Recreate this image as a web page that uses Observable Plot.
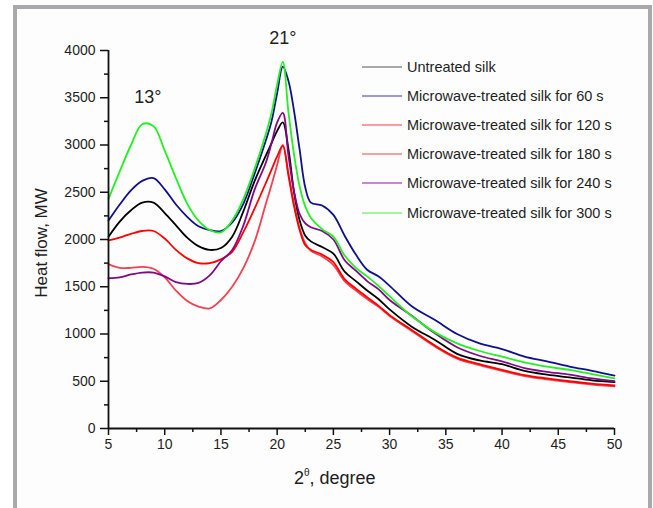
<!DOCTYPE html>
<html>
<head>
<meta charset="utf-8">
<script src="https://cdn.jsdelivr.net/npm/d3@7"></script>
<script src="https://cdn.jsdelivr.net/npm/@observablehq/plot@0.6"></script>
<style>
  html, body { margin: 0; padding: 0; background: #ffffff; }
  body { width: 653px; height: 508px; overflow: hidden; position: relative; font-family: "Liberation Sans", Arial, sans-serif; color: #1e1e1e; }
  #frame { position: absolute; left: 13px; top: 5px; width: 631px; height: 520px; border: 4px solid #a9a9ad; border-bottom: none; background: #fdfdfd; }
  #chart { position: absolute; left: 0; top: 0; }
  #legend { position: absolute; left: 0; top: 0; }
  .lrow { position: absolute; height: 20px; }
  .lrow svg { position: absolute; left: 0; top: 0; }
  .lrow span { position: absolute; left: 45px; top: 0; font-size: 14.5px; line-height: 20px; white-space: nowrap; color: #1e1e1e; }
  #ylab { position: absolute; left: 42px; top: 243px; transform: translate(-50%, -50%) rotate(-90deg); font-size: 17px; white-space: nowrap; color: #1e1e1e; }
  #xlab { position: absolute; left: 294px; top: 468px; font-size: 18px; white-space: nowrap; color: #1e1e1e; }
  #xlab sup { font-size: 10px; vertical-align: 0; position: relative; top: -8px; }
</style>
</head>
<body>
<div id="frame"></div>
<div id="chart"></div>
<div id="legend"></div>
<div id="ylab">Heat flow, MW</div>
<div id="xlab">2<sup>θ</sup>, degree</div>
<script>
// ---- data ----
const seriesNames = [
  "Untreated silk",
  "Microwave-treated silk for 60 s",
  "Microwave-treated silk for 120 s",
  "Microwave-treated silk for 180 s",
  "Microwave-treated silk for 240 s",
  "Microwave-treated silk for 300 s"
];
const seriesColors = ["#000000", "#10108a", "#f4404f", "#ff0000", "#800a85", "#22f022"];
const legendColors = ["#555555", "#3a3a9e", "#ff9a9e", "#ee4444", "#c488cc", "#44ee44"];
const legendWidths = [1, 1, 2, 1, 2, 1];

const twoTheta = [5, 6, 7, 8, 9, 10, 11, 12, 13, 14, 15, 16, 17, 18, 19, 19.5, 20, 20.5, 21, 21.5, 22, 22.5, 23, 24, 25, 26, 27, 28, 29, 30, 32, 34, 36, 38, 40, 42, 44, 46, 48, 50];

const untreated = [2030, 2190, 2310, 2390, 2390, 2280, 2150, 2020, 1930, 1890, 1910, 2030, 2300, 2620, 2890, 3020, 3150, 3240, 2960, 2500, 2200, 2040, 1980, 1920, 1850, 1660, 1560, 1460, 1370, 1260, 1075, 940, 790, 720, 680, 610, 570, 540, 510, 490];
const mw60 = [2200, 2370, 2520, 2620, 2650, 2530, 2370, 2240, 2140, 2100, 2090, 2180, 2380, 2700, 3050, 3250, 3550, 3830, 3680, 3360, 2950, 2550, 2390, 2360, 2260, 2040, 1840, 1680, 1610, 1510, 1290, 1150, 1000, 900, 840, 760, 710, 655, 610, 560];
const mw120 = [1740, 1700, 1700, 1710, 1690, 1600, 1460, 1350, 1290, 1270, 1360, 1500, 1700, 1980, 2380, 2580, 2790, 3000, 2700, 2380, 2120, 1960, 1880, 1820, 1730, 1560, 1460, 1370, 1290, 1190, 1030, 870, 740, 670, 610, 555, 520, 490, 465, 445];
const mw180 = [1990, 2020, 2060, 2090, 2090, 2010, 1890, 1800, 1750, 1750, 1790, 1870, 2080, 2330, 2600, 2740, 2880, 2990, 2680, 2350, 2100, 1940, 1890, 1840, 1760, 1580, 1480, 1390, 1300, 1200, 1040, 880, 750, 680, 620, 565, 530, 500, 475, 455];
const mw240 = [1590, 1600, 1630, 1650, 1650, 1610, 1550, 1530, 1540, 1620, 1770, 1890, 2150, 2530, 2815, 3020, 3240, 3340, 2890, 2510, 2270, 2170, 2130, 2090, 2000, 1780, 1670, 1560, 1475, 1360, 1190, 1010, 860, 770, 710, 640, 600, 570, 530, 500];
const mw300 = [2430, 2720, 3000, 3220, 3200, 2940, 2650, 2380, 2200, 2100, 2075, 2200, 2430, 2750, 3120, 3340, 3640, 3880, 3350, 2900, 2560, 2350, 2230, 2110, 2030, 1830, 1700, 1610, 1510, 1400, 1185, 1020, 900, 820, 760, 700, 655, 620, 575, 530];

const xTicks = [5, 10, 15, 20, 25, 30, 35, 40, 45, 50];
const xMinor = [7.5, 12.5, 17.5, 22.5, 27.5, 32.5, 37.5, 42.5, 47.5];
const yTicks = [0, 500, 1000, 1500, 2000, 2500, 3000, 3500, 4000];
const yMinor = [250, 750, 1250, 1750, 2250, 2750, 3250, 3750];

const annoLabels = ["13°", "21°"];
const annoX = [8.5, 20.5];
const annoY = [3510, 4125];

// ---- build tables ----
const allSeries = [untreated, mw60, mw120, mw180, mw240, mw300];
const rows = [];
allSeries.forEach((vals, si) => {
  vals.forEach((v, i) => rows.push({ s: seriesNames[si], x: twoTheta[i], y: v }));
});
const annos = annoLabels.map((t, i) => ({ t, x: annoX[i], y: annoY[i] }));

const lineMarks = seriesNames.map((name, si) =>
  Plot.line(rows.filter(d => d.s === name), {
    x: "x", y: "y", stroke: seriesColors[si], strokeWidth: 1.8, curve: "catmull-rom"
  })
);

const fmt = d => String(d);

const chart = Plot.plot({
  width: 653,
  height: 508,
  marginLeft: 108,
  marginRight: 39,
  marginTop: 50,
  marginBottom: 80,
  style: { background: "transparent", fontFamily: "Liberation Sans, Arial, sans-serif", color: "#1e1e1e", overflow: "visible" },
  x: { domain: [5, 50] },
  y: { domain: [0, 4000] },
  marks: [
    Plot.axisY({ ticks: yTicks, tickSize: 8, tickPadding: 5, tickFormat: fmt, label: null, fontSize: 14, strokeWidth: 1.5, stroke: "#111" }),
    Plot.axisY({ ticks: yMinor, tickSize: 4, tickFormat: () => "", label: null, strokeWidth: 1.5, stroke: "#111" }),
    Plot.axisX({ ticks: xTicks, tickSize: 7, tickPadding: 4, tickFormat: fmt, label: null, fontSize: 14, strokeWidth: 1.5, stroke: "#111" }),
    Plot.axisX({ ticks: xMinor, tickSize: 4, tickFormat: () => "", label: null, strokeWidth: 1.5, stroke: "#111" }),
    ...lineMarks,
    Plot.ruleX([5], { stroke: "#111", strokeWidth: 1.8 }),
    Plot.ruleY([0], { stroke: "#111", strokeWidth: 1.8 }),
    Plot.text(annos, { x: "x", y: "y", text: "t", fontSize: 18, fill: "#1e1e1e", textAnchor: "middle", lineAnchor: "middle" })
  ]
});
document.getElementById("chart").appendChild(chart);

// ---- legend ----
const legendTop = [57, 86, 115, 144, 173, 203];
const legend = document.getElementById("legend");
seriesNames.forEach((name, i) => {
  const row = document.createElement("div");
  row.className = "lrow";
  row.style.left = "362px";
  row.style.top = legendTop[i] + "px";
  row.innerHTML = `<svg width="42" height="20"><line x1="0" x2="40" y1="10" y2="10" stroke="${legendColors[i]}" stroke-width="${legendWidths[i]}"/></svg><span>${name}</span>`;
  legend.appendChild(row);
});
</script>
</body>
</html>
